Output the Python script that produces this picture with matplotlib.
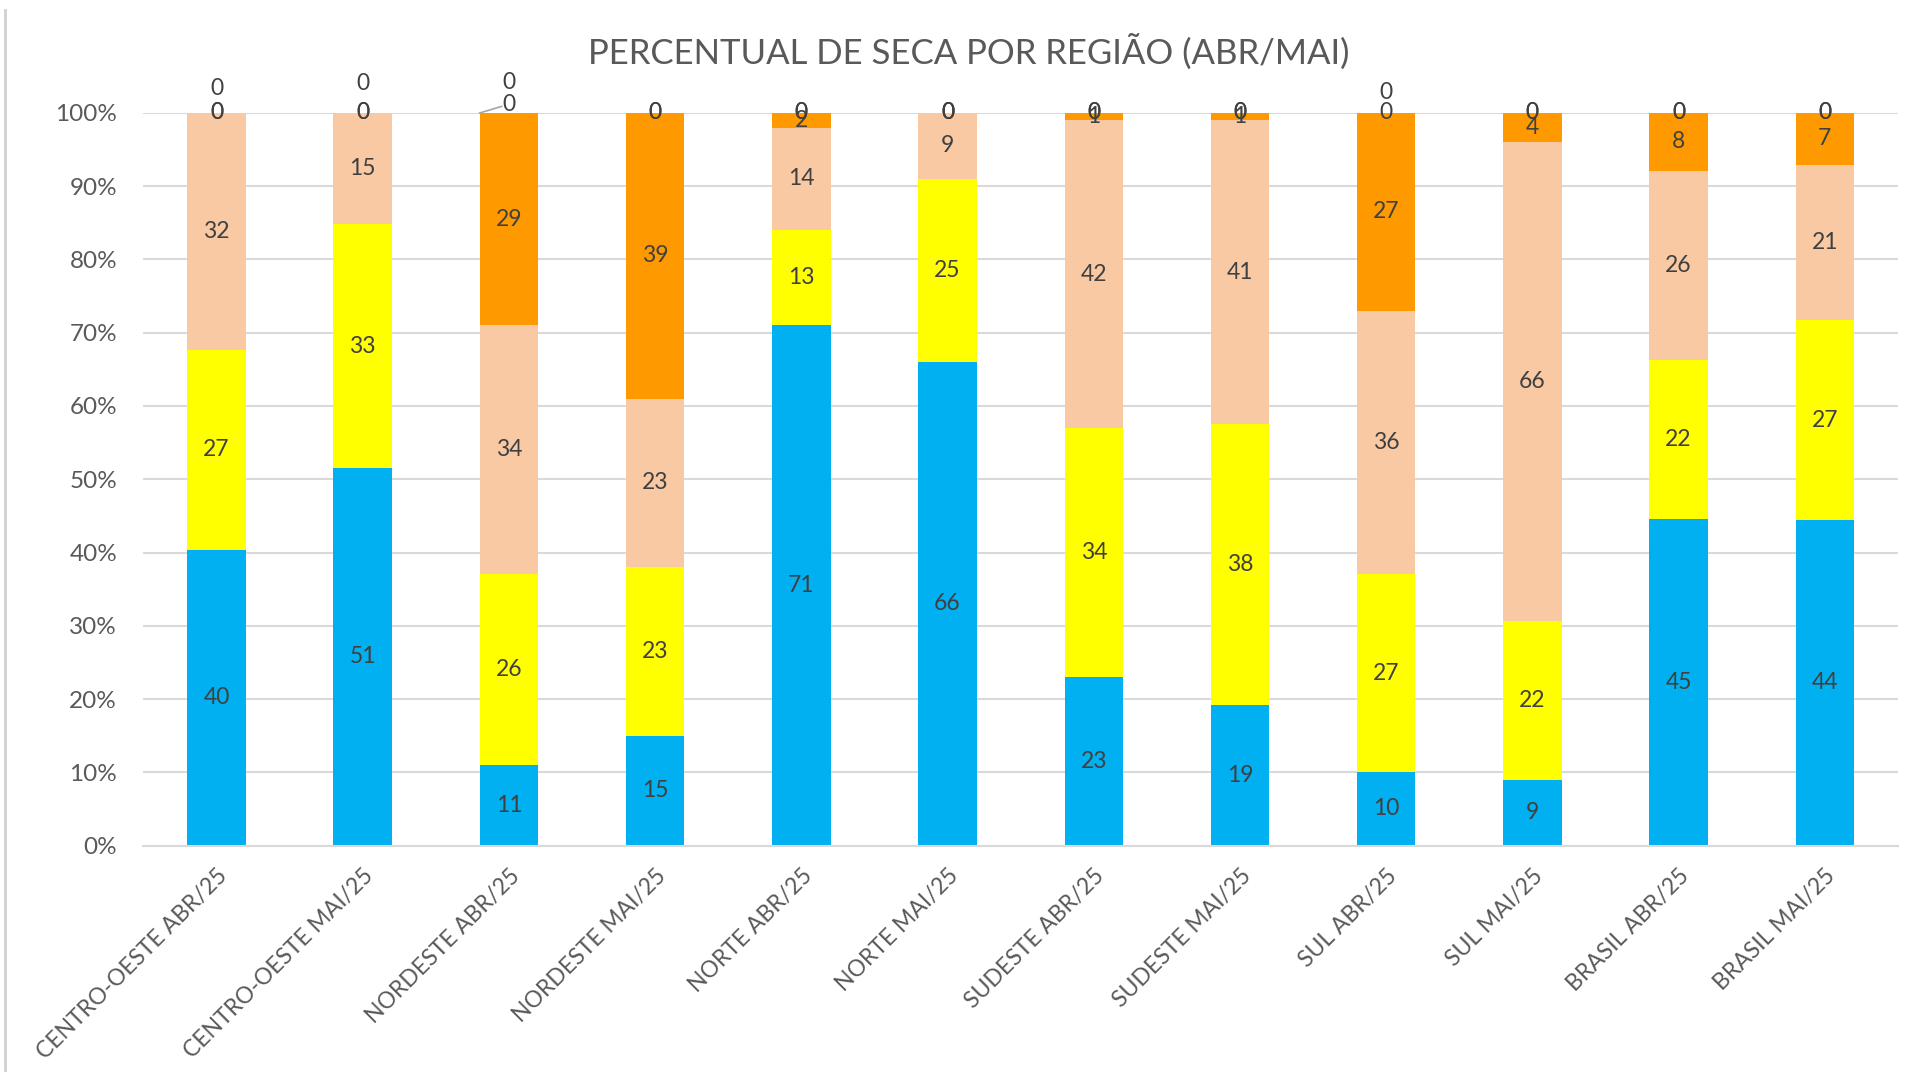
import matplotlib
matplotlib.use("Agg")
import matplotlib.pyplot as plt
from matplotlib.lines import Line2D
import numpy as np

plt.rcParams["font.family"] = ["Lato", "DejaVu Sans"]

categories = [
    "CENTRO-OESTE ABR/25", "CENTRO-OESTE MAI/25",
    "NORDESTE ABR/25", "NORDESTE MAI/25",
    "NORTE ABR/25", "NORTE MAI/25",
    "SUDESTE ABR/25", "SUDESTE MAI/25",
    "SUL ABR/25", "SUL MAI/25",
    "BRASIL ABR/25", "BRASIL MAI/25",
]

sem_seca = [40, 51, 11, 15, 71, 66, 23, 19, 10, 9, 45, 44]
fraca = [27, 33, 26, 23, 13, 25, 34, 38, 27, 22, 22, 27]
moderada = [32, 15, 34, 23, 14, 9, 42, 41, 36, 66, 26, 21]
grave = [0, 0, 29, 39, 2, 0, 1, 1, 27, 4, 8, 7]
extrema = [0, 0, 0, 0, 0, 0, 0, 0, 0, 0, 0, 0]
excepcional = [0, 0, 0, 0, 0, 0, 0, 0, 0, 0, 0, 0]

series = [sem_seca, fraca, moderada, grave, extrema, excepcional]
colors = ["#00B0F0", "#FFFF00", "#F8C9A2", "#FF9900", "#FF0000", "#C00000"]

# zero labels that Excel nudged upwards (series index, bar index) -> points
label_lift = {(5, 0): 3.3, (5, 1): 4.0, (5, 2): 4.1, (4, 2): 1.1, (5, 8): 2.8}

text_color = "#404040"
axis_color = "#595959"
grid_color = "#D9D9D9"

fig = plt.figure(figsize=(19.2, 10.8), dpi=100)
ax = fig.add_axes([0.0747, 0.2171, 0.9138, 0.6783])

data = np.array(series, dtype=float)
totals = data.sum(axis=0)
pct = data / totals * 100
x = np.arange(len(categories))
width = 0.40

bottom = np.zeros(len(categories))
for i, vals in enumerate(pct):
    ax.bar(x, vals, width, bottom=bottom, color=colors[i], zorder=2)
    for j in range(len(categories)):
        yc = bottom[j] + vals[j] / 2
        lift = label_lift.get((i, j), 0)
        ax.text(x[j], yc + lift, f"{int(data[i, j])}", ha="center", va="center",
                fontsize=16.5, color=text_color, zorder=4)
        if (i, j) == (4, 2):
            # leader line from the bar corner to the nudged label
            ax.add_line(Line2D([x[j] - width / 2, x[j] - 0.05], [100, yc + lift - 0.2],
                               color="#A6A6A6", lw=1.2, zorder=3, clip_on=False))
    bottom += vals

ax.set_xlim(-0.5, len(categories) - 0.5)
ax.set_ylim(0, 100)
ax.set_yticks(np.arange(0, 101, 10))
ax.set_yticklabels([f"{v}%" for v in range(0, 101, 10)])
ax.yaxis.grid(True, color=grid_color, lw=1.5, zorder=0)
ax.set_axisbelow(True)
for s in ["top", "right", "left"]:
    ax.spines[s].set_visible(False)
ax.spines["bottom"].set_color(grid_color)
ax.spines["bottom"].set_linewidth(1.5)
ax.tick_params(axis="y", length=0, pad=19, labelsize=17.5, labelcolor=axis_color)
ax.tick_params(axis="x", length=0, pad=14, labelsize=16.5, labelcolor=axis_color)
ax.set_xticks(x)
ax.set_xticklabels(categories, rotation=45, ha="right", rotation_mode="anchor")

fig.text(0.5045, 0.952, "PERCENTUAL DE SECA POR REGIÃO (ABR/MAI)", ha="center", va="center",
         fontsize=25, color=axis_color)

# frame edge left of the chart
fig.add_artist(Line2D([0.0026, 0.0026], [0.009, 0.991], color="#D0D0D0", lw=2))

fig.savefig("out.png", dpi=100, facecolor="white")
